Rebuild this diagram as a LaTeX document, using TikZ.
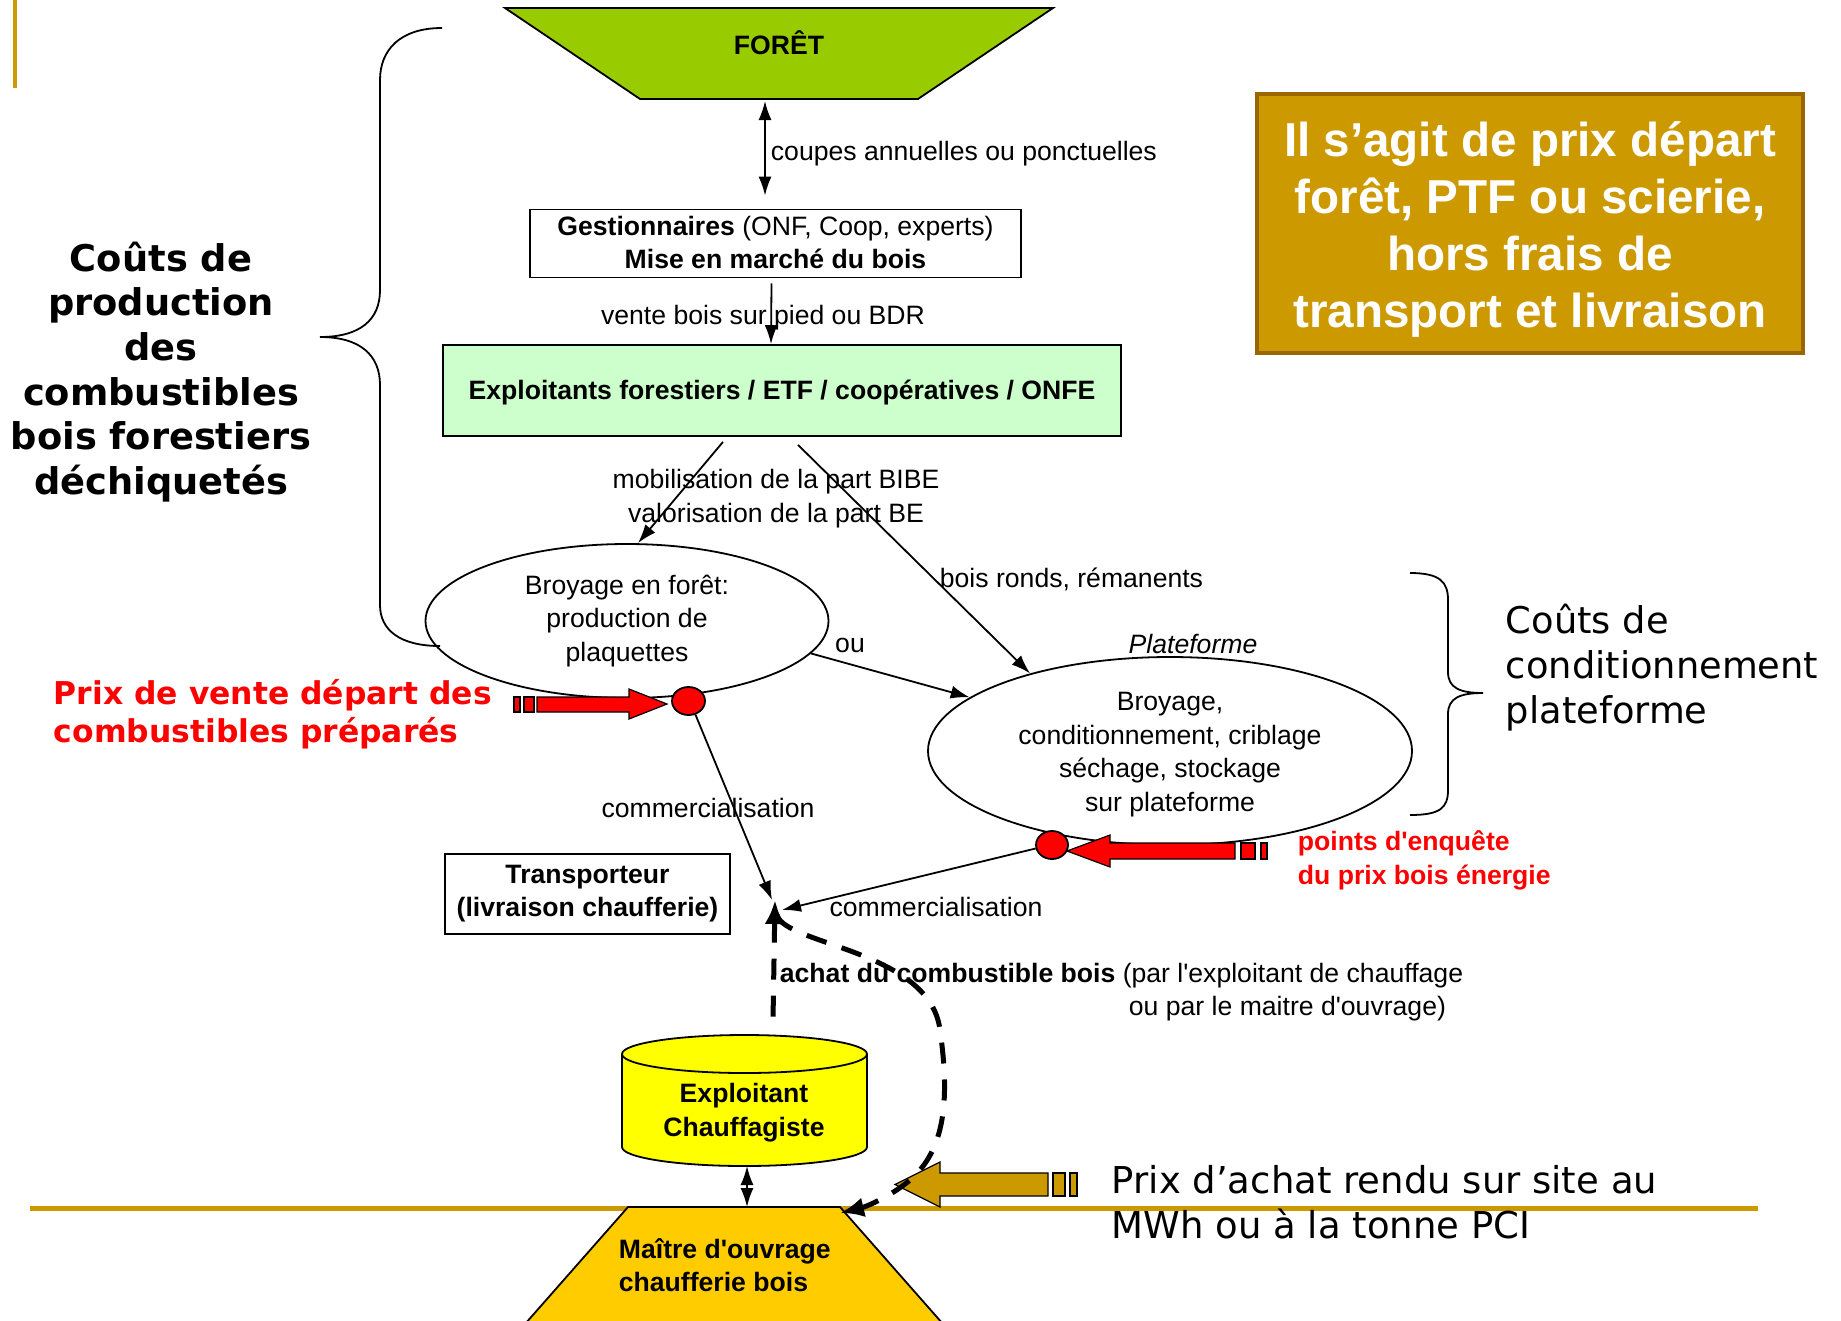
\documentclass[tikz,border=0pt]{standalone}
\usepackage{fontspec}
\setmainfont{Liberation Sans}[Ligatures=TeXOff]
\newfontfamily\djv{DejaVu Sans}
\usetikzlibrary{arrows.meta}
\usetikzlibrary{shapes.geometric}
\definecolor{vertforet}{RGB}{153,204,0}
\definecolor{vertclair}{RGB}{204,255,204}
\definecolor{jaunecyl}{RGB}{255,255,0}
\definecolor{orchauf}{RGB}{255,204,0}
\definecolor{orfonce}{RGB}{204,153,0}
\definecolor{orbord}{RGB}{153,102,0}

\begin{document}
\begin{tikzpicture}[x=1pt,y=-1pt,line width=1.8pt,>={Latex[length=19pt,width=13pt]},
    txt/.style={font=\fontsize{26.6}{33.5}\selectfont,align=center,inner sep=0pt},
    gras/.style={txt,font=\bfseries\fontsize{26.6}{33.5}\selectfont},
    boite/.style={draw,rectangle,align=center,inner sep=0pt},
    bulle/.style={txt,draw,ellipse},
    pointrouge/.style={draw,fill=red,ellipse,minimum width=33pt,minimum height=28pt,inner sep=0pt},
    gros/.style={font=\djv\bfseries\fontsize{36.8}{44.6}\selectfont,align=center,inner sep=0pt},
    moyen/.style={font=\djv\fontsize{37}{45}\selectfont,align=left,inner sep=0pt},
    tirets/.style={line width=5pt,dash pattern=on 21pt off 16pt,>={Latex[length=24pt,width=20pt]}}]
    \useasboundingbox (0,0) rectangle (1841,1320);
    \draw[orfonce,line width=4pt] (14.7,0) -- (14.7,88);
    % foret et gestionnaires
    \filldraw[fill=vertforet] (505,8) -- (1053,8) -- (918,99) -- (640,99) -- cycle;
    \node[gras] (foret) at (779,43) {FORÊT};
    \coordinate (foret-bas) at (765,101);
    \node[boite,txt,minimum width=491pt,minimum height=68pt] (gest) at (775.5,243.5)
        {\textbf{Gestionnaires} (ONF, Coop, experts)\\\textbf{Mise en marché du bois}\rule[-2pt]{0pt}{0pt}};
    \draw[<->] (foret-bas) -- ([xshift=-10.5pt,yshift=13pt]gest.north);
    \node[txt,anchor=west] (coupes) at (770,153.5) {coupes annuelles ou ponctuelles};
    \node[boite,gras,fill=vertclair,minimum width=678pt,minimum height=91pt] (expl) at (782,390.5)
        {\rule{0pt}{24pt}Exploitants forestiers / ETF / coopératives / ONFE};
    \node[txt] (vente) at (763,318) {vente bois sur pied ou BDR};
    \draw[->] ([xshift=-4pt,yshift=-5pt]gest.south) -- ([xshift=-11pt]expl.north);
    % broyage
    \node[bulle,minimum width=403pt,minimum height=154pt] (broy) at (627,621)
        {Broyage en forêt:\\production de\\plaquettes};
    \node[bulle,minimum width=484pt,minimum height=188pt] (plat) at (1170,751)
        {\rule{0pt}{25pt}Broyage,\\conditionnement, criblage\\séchage, stockage\\sur plateforme};
    \node[txt,font=\itshape\fontsize{26.6}{33.5}\selectfont] (platnom) at (1193,644) {Plateforme};
    \draw[->] ([xshift=-59pt,yshift=-5pt]expl.south) -- ([xshift=11pt]broy.north);
    \node[txt] (mobil) at (776,498.5) {mobilisation de la part BIBE\\valorisation de la part BE};
    \draw[->] ([xshift=16pt,yshift=-8pt]expl.south) -- (plat.151);
    \node[txt,anchor=west] (ronds) at (939,579) {bois ronds, rémanents};
    \draw[->] (broy.-10) -- (plat.165);
    \node[txt] (ou) at (850,645.5) {ou};
    % accolades
    \draw (442,28) .. controls (400,28) and (380,50) .. (380,80) -- (380,290)
        .. controls (380,320) and (360,337) .. (320,337) .. controls (360,337) and (380,355) .. (380,385)
        -- (380,605) .. controls (380,630) and (400,646) .. (440,646);
    \draw (1410,573) .. controls (1440,573) and (1448,582) .. (1448,600) -- (1448,672)
        .. controls (1448,688) and (1460,693) .. (1483,693) .. controls (1460,693) and (1448,698) .. (1448,714)
        -- (1448,790) .. controls (1448,808) and (1440,815) .. (1410,815);
    \node[gros] (coutsprod) at (161,372) {Coûts de\\production\\des\\combustibles\\bois forestiers\\déchiquetés};
    \node[moyen,font=\djv\fontsize{36.8}{44.6}\selectfont,anchor=west] (coutsplat) at (1505,667.5)
        {Coûts de\\conditionnement\\plateforme};
    % fleches rouges
    \filldraw[fill=red,line width=1.2pt] (537,697) -- (629,697) -- (629,689) -- (667,704) -- (629,719) -- (629,712) -- (537,712) -- cycle;
    \foreach \a/\b in {514/520,524/534} % rayures
        \filldraw[fill=red,line width=1.2pt] (\a,697) rectangle (\b,712);
    \filldraw[fill=red,line width=1.2pt] (1235,843) -- (1110,843) -- (1110,835) -- (1067,851) -- (1110,867) -- (1110,859) -- (1235,859) -- cycle;
    \foreach \a/\b in {1241/1255,1261/1267}
        \filldraw[fill=red,line width=1.2pt] (\a,843) rectangle (\b,859);
    \node[pointrouge] (pv1) at (688.5,701) {};
    \node[pointrouge,minimum width=32pt] (pv2) at (1052,845) {};
    \node[font=\djv\bfseries\fontsize{31.4}{38}\selectfont,text=red,align=left,anchor=west,inner sep=0pt] (prixvente) at (53,714.5)
        {Prix de vente départ des\\combustibles préparés};
    \node[gras,text=red,align=left,anchor=west] (enquete) at (1297,860.5) {points d'enquête\\du prix bois énergie};
    % commercialisation
    \coordinate (achat) at (775,900);
    \draw[->] (pv1.-63) -- ([xshift=-3pt]achat);
    \node[txt] (comm1) at (708,808) {commercialisation};
    \draw[->] (pv2.192) -- ([xshift=7pt,yshift=-10pt]achat);
    \node[txt] (comm2) at (936,907) {commercialisation};
    \node[boite,gras,minimum width=285pt,minimum height=80pt] (transp) at (587.5,894) {Transporteur\\(livraison chaufferie)\rule[-6pt]{0pt}{0pt}};
    % encadre
    \node[draw=orbord,fill=orfonce,line width=4pt,minimum width=546pt,minimum height=259pt,text=white,
        font=\bfseries\fontsize{47.6}{57}\selectfont,align=center] (avert) at (1530,223.5)
        {\rule{0pt}{47pt}Il s’agit de prix départ\\forêt, PTF ou scierie,\\hors frais de\\transport et livraison};
    % chaufferie
    \filldraw[fill=jaunecyl] (622,1054) -- (622,1147) arc[start angle=180,end angle=360,x radius=122.5pt,y radius=19pt]
        -- (867,1054) arc[start angle=0,end angle=180,x radius=122.5pt,y radius=19pt] -- cycle;
    \draw (622,1054) arc[start angle=180,end angle=360,x radius=122.5pt,y radius=19pt];
    \node[gras] (chauf) at (744,1112.5) {Exploitant\\Chauffagiste};
    \coordinate (cyl-haut) at (773,1020);
    \coordinate (cyl-bas) at (747,1166);
    \draw[orfonce,line width=4.5pt] (30,1208.5) -- (1758,1208.5);
    \filldraw[fill=orchauf] (628,1207) -- (840,1207) -- (943,1324) -- (525,1324) -- cycle;
    \node[gras,align=left,anchor=west] (maitre) at (618,1265) {Maître d'ouvrage\\chaufferie bois};
    \coordinate (mo-haut) at (747,1207);
    \coordinate (mo-coin) at (840,1213);
    \draw[<->] (cyl-bas) -- (mo-haut);
    \filldraw[fill=orfonce,line width=1.2pt] (1048,1173) -- (940,1173) -- (940,1162) -- (895,1184.5) -- (940,1207) -- (940,1196) -- (1048,1196) -- cycle;
    \foreach \a/\b in {1053/1065,1070/1077}
        \filldraw[fill=orfonce,line width=1.2pt] (\a,1173) rectangle (\b,1196);
    \node[moyen,anchor=west] (prixachat) at (1111,1202.5) {Prix d’achat rendu sur site au\\MWh ou à la tonne PCI};
    % achat
    \node[txt,anchor=west] (achat1) at (779,975.5) {\textbf{achat du combustible bois} (par l'exploitant de chauffage};
    \node[txt,anchor=west] (achat2) at (1128,1008.5) {ou par le maitre d'ouvrage)};
    \draw[tirets,<-] (achat) -- (cyl-haut);
    \draw[tirets,->] ([xshift=2pt,yshift=-15pt]achat) .. controls (785,945) and (930,950) .. (940,1030)
        .. controls (950,1100) and (945,1150) .. (910,1180) .. controls (890,1197) and (865,1207) .. (mo-coin);
\end{tikzpicture}
\end{document}
